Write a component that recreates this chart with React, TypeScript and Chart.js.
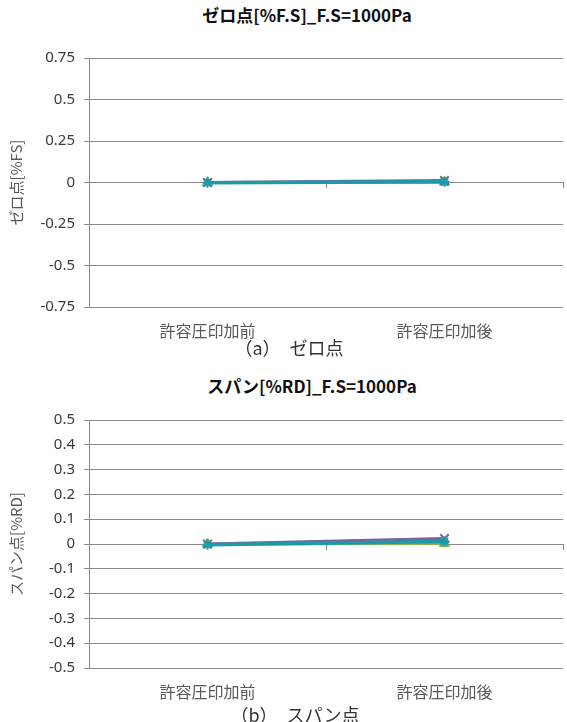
import React, { useEffect, useRef } from "react";
import { Chart, registerables } from "chart.js";

Chart.register(...registerables);

const categories = ["許容圧印加前", "許容圧印加後"];

const zeroGreen = [0, 0.002];
const zeroPurple = [0, 0.012];
const zeroTeal = [-0.002, 0.004];
const zeroTicks = [-0.75, -0.5, -0.25, 0, 0.25, 0.5, 0.75];

const spanGreen = [0, 0.002];
const spanPurple = [0, 0.022];
const spanTeal = [-0.003, 0.01];
const spanTicks = [-0.5, -0.4, -0.3, -0.2, -0.1, 0, 0.1, 0.2, 0.3, 0.4, 0.5];

const GRID = "#8a8a8a";
const FONT_JP = "'Noto Sans CJK JP', 'Noto Sans', sans-serif";
const FONT_NUM = "'Noto Sans', 'Open Sans', sans-serif";

type Props = {
  green: number[];
  purple: number[];
  teal: number[];
  ticks: number[];
  yTitle: string;
  top: number;
  height: number;
  padTop: number;
  axisHeight: number;
};

function LineChart(p: Props) {
  const ref = useRef<HTMLCanvasElement>(null);
  useEffect(() => {
    const tk = p.ticks;
    const chart = new Chart(ref.current as HTMLCanvasElement, {
      type: "line",
      data: {
        labels: categories,
        datasets: [
          {
            label: "系列3",
            data: p.green,
            borderColor: "#8db152",
            backgroundColor: "#8db152",
            borderWidth: 3,
            pointStyle: "triangle",
            pointRadius: 6,
            pointBorderWidth: 1,
            order: 3,
          },
          {
            label: "系列4",
            data: p.purple,
            borderColor: "#7d62a0",
            backgroundColor: "#7d62a0",
            borderWidth: 3,
            pointStyle: "crossRot",
            pointRadius: 6,
            pointBorderWidth: 2,
            order: 2,
          },
          {
            label: "系列5",
            data: p.teal,
            borderColor: "#1b9aa8",
            backgroundColor: "#1b9aa8",
            borderWidth: 3.5,
            pointStyle: "star",
            pointRadius: 5,
            pointBorderWidth: 2,
            order: 1,
          },
        ],
      },
      options: {
        animation: false,
        responsive: false,
        maintainAspectRatio: false,
        layout: { padding: { top: p.padTop, left: 0, right: 0, bottom: 0 } },
        plugins: {
          legend: { display: false },
          tooltip: { enabled: false },
        },
        scales: {
          x: {
            type: "category",
            position: "bottom",
            offset: true,
            grid: { display: false, drawTicks: false },
            border: { display: false },
            ticks: {
              font: { family: FONT_JP, size: 16 },
              color: "#595959",
              padding: 14,
              maxRotation: 0,
              autoSkip: false,
            },
            afterFit: (s: any) => {
              s.height = p.axisHeight;
            },
          },
          x2: {
            type: "category",
            labels: categories,
            position: { y: 0 },
            offset: true,
            grid: {
              offset: true,
              drawOnChartArea: false,
              drawTicks: true,
              tickLength: 5,
              color: GRID,
            },
            border: { display: true, color: GRID },
            ticks: { display: false },
          },
          y: {
            min: tk[0],
            max: tk[tk.length - 1],
            afterBuildTicks: (s: any) => {
              s.ticks = tk.map((v) => ({ value: v }));
            },
            grid: { color: GRID, tickLength: 5 },
            border: { display: true, color: GRID },
            ticks: {
              font: { family: FONT_NUM, size: 15 },
              color: "#3a3a3a",
              padding: 9,
              callback: (v: any) => String(v),
            },
            title: {
              display: true,
              text: p.yTitle,
              font: { family: FONT_JP, size: 15 },
              color: "#595959",
              padding: { top: 7, bottom: 0 },
            },
            afterFit: (s: any) => {
              s.width = 89;
            },
          },
        },
      },
    } as any);
    return () => chart.destroy();
  }, []);
  return (
    <canvas
      ref={ref}
      width={571}
      height={p.height}
      style={{ position: "absolute", left: 0, top: p.top, width: 571, height: p.height }}
    />
  );
}

const titleStyle: React.CSSProperties = {
  position: "absolute",
  textAlign: "center",
  fontFamily: FONT_JP,
  fontWeight: 700,
  fontSize: 17,
  lineHeight: "20px",
  color: "#111111",
  whiteSpace: "nowrap",
};

const captionStyle: React.CSSProperties = {
  position: "absolute",
  textAlign: "center",
  fontFamily: FONT_JP,
  fontSize: 18,
  lineHeight: "22px",
  color: "#333333",
  whiteSpace: "nowrap",
};

export default function App() {
  return (
    <div
      style={{
        position: "absolute",
        left: 0,
        top: 0,
        width: 567,
        height: 722,
        overflow: "hidden",
        background: "#ffffff",
      }}
    >
      <LineChart
        green={zeroGreen}
        purple={zeroPurple}
        teal={zeroTeal}
        ticks={zeroTicks}
        yTitle="ゼロ点[%FS]"
        top={40}
        height={310}
        padTop={15}
        axisHeight={43}
      />
      <LineChart
        green={spanGreen}
        purple={spanPurple}
        teal={spanTeal}
        ticks={spanTicks}
        yTitle="スパン点[%RD]"
        top={400}
        height={310}
        padTop={20}
        axisHeight={42}
      />
      <div style={{ ...titleStyle, left: 0, width: 614, top: 5 }}>ゼロ点[%F.S]_F.S=1000Pa</div>
      <div style={{ ...titleStyle, left: 0, width: 624, top: 376 }}>スパン[%RD]_F.S=1000Pa</div>
      <div style={{ ...captionStyle, left: 0, width: 578, top: 336 }}>（a）　ゼロ点</div>
      <div style={{ ...captionStyle, left: 0, width: 590, top: 703 }}>（b）　スパン点</div>
    </div>
  );
}
